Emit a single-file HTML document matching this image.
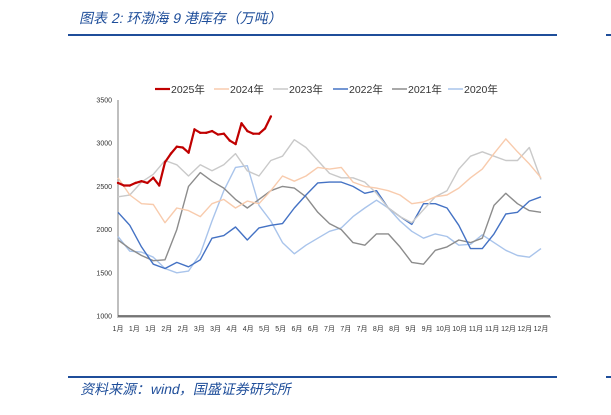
<!DOCTYPE html>
<html><head><meta charset="utf-8"><style>
body{margin:0;background:#fff;width:611px;height:410px;overflow:hidden;font-family:"Liberation Sans","Noto Sans CJK SC",sans-serif}
</style></head><body>
<svg width="611" height="410" xmlns="http://www.w3.org/2000/svg">
<text x="80" y="23" font-size="14" transform="translate(4,0) skewX(-12)" fill="#1f4e9a" font-family="'Liberation Sans','Noto Sans CJK SC',sans-serif">图表 2:  环渤海 9 港库存（万吨）</text>
<rect x="68" y="34" width="489" height="2" fill="#1f4e9a"/>
<rect x="606" y="34" width="5" height="2" fill="#1f4e9a"/>
<rect x="68" y="376" width="489" height="2" fill="#1f4e9a"/>
<rect x="606" y="376" width="5" height="2" fill="#1f4e9a"/>
<text x="80" y="394" font-size="14" transform="translate(84,0) skewX(-12)" fill="#1f4e9a" font-family="'Liberation Sans','Noto Sans CJK SC',sans-serif">资料来源：wind，国盛证券研究所</text>
<g id="plot"></g>
</svg>
<script>
const yTicks=[1000,1500,2000,2500,3000,3500];
const xLabels=["1月","1月","1月","2月","2月","3月","3月","4月","4月","5月","5月","6月","6月","7月","7月","7月","8月","8月","9月","9月","10月","10月","11月","11月","12月","12月","12月"];
const seriesNames=["2025年","2024年","2023年","2022年","2021年","2020年"];
const seriesColors=["#c00000","#f8cbad","#c9c9c9","#4472c4","#8c8c8c","#a9c4eb"];
const s2025=[2540,2510,2510,2540,2560,2540,2600,2510,2780,2880,2960,2950,2890,3160,3120,3120,3140,3100,3110,3030,2990,3230,3140,3110,3110,3170,3310];
const s2024=[2600,2400,2300,2290,2080,2250,2220,2150,2300,2350,2250,2330,2300,2450,2620,2560,2620,2720,2700,2720,2550,2500,2480,2450,2400,2300,2320,2380,2400,2480,2600,2700,2880,3050,2900,2760,2600];
const s2023=[2380,2400,2550,2640,2800,2750,2620,2750,2680,2750,2880,2680,2620,2800,2850,3040,2950,2800,2650,2600,2600,2550,2420,2250,2150,2080,2230,2380,2450,2700,2850,2900,2850,2800,2800,2950,2580];
const s2022=[2200,2050,1800,1600,1550,1620,1570,1650,1900,1930,2030,1880,2020,2050,2070,2250,2400,2540,2550,2550,2500,2420,2450,2250,2150,2060,2300,2300,2250,2050,1780,1780,1950,2180,2200,2330,2380];
const s2021=[1880,1780,1700,1640,1650,2000,2500,2660,2560,2480,2350,2250,2350,2450,2500,2480,2380,2200,2070,2000,1850,1820,1950,1950,1800,1620,1600,1760,1800,1880,1850,1900,2280,2420,2300,2220,2200];
const s2020=[1920,1750,1740,1680,1550,1500,1520,1720,2100,2450,2720,2740,2280,2100,1850,1720,1820,1900,1980,2020,2150,2250,2340,2250,2100,1980,1900,1950,1920,1820,1830,1940,1850,1760,1700,1680,1780];
const seriesData=[s2025,s2024,s2023,s2022,s2021,s2020];
const X0=118,X1=541,AX1=550,Y0=316,Y1=100,VMIN=1000,VMAX=3500;
const redSpan=(633-175)/1267;
function xs(frac){return X0+frac*(X1-X0);}
function ys(v){return Y0-(v-VMIN)/(VMAX-VMIN)*(Y0-Y1);}
const NS="http://www.w3.org/2000/svg";
const g=document.getElementById('plot');
function mk(t,a){const e=document.createElementNS(NS,t);for(const k in a)e.setAttribute(k,a[k]);g.appendChild(e);return e;}
let e=mk('line',{x1:X0,y1:Y1,x2:X0,y2:Y0,stroke:'#7f7f7f','stroke-width':1});


yTicks.forEach(t=>{const tx=mk('text',{x:X0-6,y:ys(t)+2.5,'font-size':7,'text-anchor':'end',fill:'#333'});tx.textContent=t;

});
e=mk('line',{x1:X0,y1:Y0,x2:AX1,y2:Y0,stroke:'#555','stroke-width':1.5});


for(let d=0;d<=216;d++){const x=X0+d*(AX1-X0)/216;const tk=mk('line',{x1:x,y1:Y0,x2:x,y2:Y0+2,stroke:'#666','stroke-width':0.8});

}
xLabels.forEach((l,i)=>{const tx=mk('text',{x:X0+i*(X1-X0)/(xLabels.length-1),y:331,'font-size':7,'text-anchor':'middle',fill:'#333'});tx.textContent=l;

});
for(let s=seriesData.length-1;s>=0;s--){
 const arr=seriesData[s];const span=s===0?redSpan:1;
 const pts=arr.map((v,i)=>xs(i/(arr.length-1)*span).toFixed(1)+','+ys(v).toFixed(1)).join(' ');
 const pl=mk('polyline',{points:pts,fill:'none',stroke:seriesColors[s],'stroke-width':s===0?2.2:1.4,'stroke-linejoin':'round'});
 
 
 if(s===0){arr.forEach((v,i)=>{const c=mk('circle',{cx:xs(i/(arr.length-1)*span),cy:ys(v),r:1.2,fill:seriesColors[0]});
 
 });}
}
const legX=[155,214,273,333,392,448];
seriesNames.forEach((n,i)=>{
 const ln=mk('line',{x1:legX[i],y1:89,x2:legX[i]+15,y2:89,stroke:seriesColors[i],'stroke-width':i===0?2.2:1.5});
 
 
 const tx=mk('text',{x:legX[i]+16,y:93,'font-size':10.5,fill:'#333'});tx.textContent=n;
 
 
});
</script>
</body></html>
